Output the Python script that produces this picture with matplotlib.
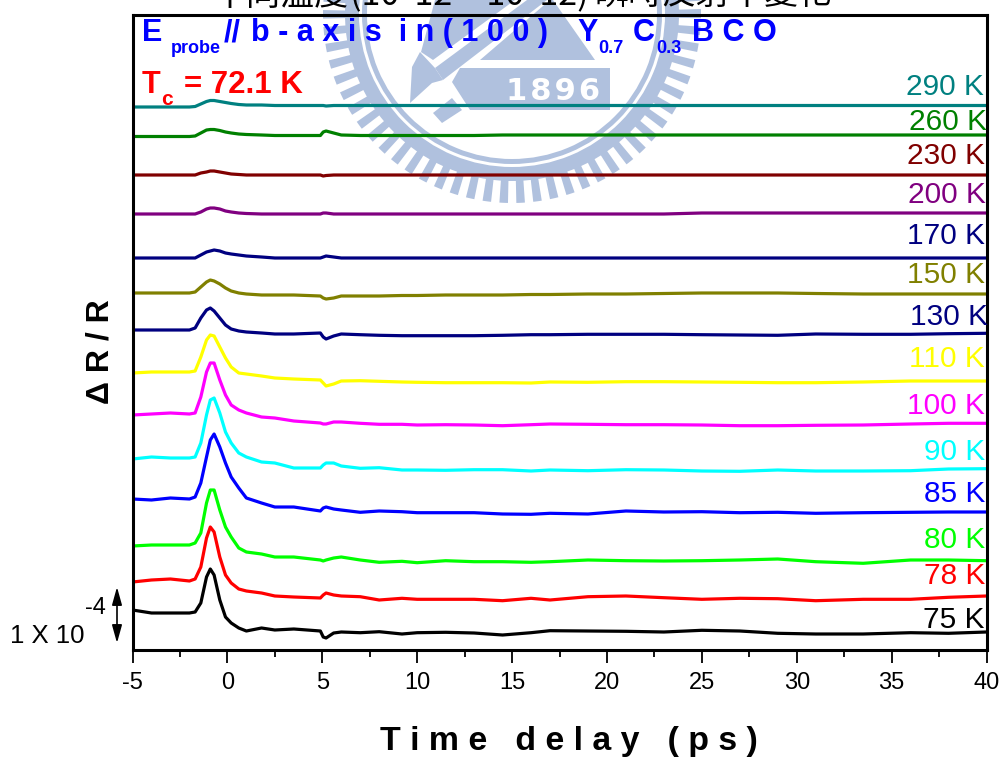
#!/usr/bin/python3

import numpy as np
import matplotlib
matplotlib.use("Agg")
import matplotlib.pyplot as plt
from matplotlib.patches import Wedge, Polygon

plt.rcParams['font.family'] = ['Liberation Sans', 'DejaVu Sans']
plt.rcParams['axes.unicode_minus'] = False

W = 1003
H = 758

# time delay knots (ps), shared by all the traces
t = [-5, -4, -3, -2, -1.7, -1.4, -1.1, -0.9, -0.7, -0.4, -0.1, 0.2, 0.6, 1, 1.8, 2.5, 3.5, 4.9,
     5.05, 5.2, 5.6, 6,
     7, 8, 9.2, 10, 11.5, 13, 14.5, 16, 17, 19, 21, 23, 25, 27, 29, 31, 33.5, 36, 38, 40]

# traces, y axis runs downward like the image rows
s75 = [610, 613, 613, 613, 612, 603, 577, 569, 575, 600, 617, 623, 628, 631, 628, 630, 629, 631,
       637, 638, 633, 632,
       632.7, 631.7, 634, 632.7, 632.3, 633, 635, 632.7, 630.7, 631, 631.3, 632, 630.3, 631, 633.3, 634, 634, 632.7, 633.3, 632]
s78 = [582, 580, 579, 581, 579, 567, 538, 527, 532, 557, 575, 583, 589, 591, 593, 596, 597, 598,
       595, 593, 595, 596,
       596.7, 600, 598.3, 599.3, 599.3, 599.3, 600.7, 598.3, 600, 596.7, 596, 597.7, 599.3, 598.3, 598.7, 600.7, 599.3, 599.3, 597.3, 596]
s80 = [546, 545, 545, 545, 543, 533, 503, 490, 490, 510, 527, 537, 548, 552, 554, 557, 557, 560,
       561, 560, 558, 557,
       560, 562.3, 561.3, 562.7, 560.7, 561.7, 561.7, 562.3, 561.7, 560, 560.7, 561, 560.7, 560, 559, 561.7, 563.3, 560, 560, 560.7]
s85 = [499, 500, 498, 499, 497, 483, 457, 440, 434, 447, 463, 477, 488, 498, 503, 507, 507, 511,
       508, 507, 509, 510,
       512.3, 511, 511.7, 512.7, 512.7, 512.7, 514, 514.3, 513.3, 514, 511, 512, 511.7, 512.7, 512.3, 513.3, 512.7, 512.3, 512, 512]
s90 = [459, 457, 458, 458, 457, 443, 415, 400, 398, 413, 432, 443, 453, 457, 462, 463, 468, 468,
       465, 463, 463, 466,
       468.3, 467.7, 470, 470, 470.3, 469.7, 469.7, 471, 470, 470.7, 469.7, 470, 471, 471.3, 470, 471, 471, 470.7, 469, 468.7]
s100 = [415, 414, 413, 414, 413, 397, 372, 363, 363, 380, 395, 405, 410, 413, 417, 418, 421, 423,
        424, 424, 422, 422,
        423.3, 424.3, 424.3, 425, 424.7, 425, 425.7, 424.7, 424, 424.3, 424.7, 424.7, 425, 425.7, 425.7, 425.3, 425, 424, 423.3, 423.3]
s110 = [373, 372, 372, 372, 371, 357, 340, 335, 336, 347, 358, 367, 373, 374, 376, 378, 379, 380,
        383, 386, 384, 381,
        380.7, 381.3, 382, 382.3, 382.7, 382.7, 382.7, 383, 382, 382.3, 381.7, 381.7, 382, 382.3, 382.7, 382.7, 382, 381, 381, 381]
s130 = [330, 330, 330, 330, 328, 318, 310, 308, 311, 318, 325, 329, 331, 332, 333, 334, 334, 333,
        337, 339, 336, 334,
        334.7, 335.3, 335.7, 335.7, 335.7, 335.7, 335.3, 334.7, 334.7, 334.3, 334.3, 334.3, 334.7, 335, 335.3, 334, 334.3, 334.3, 333.7, 333.3]
s150 = [293, 293, 293, 293, 292, 287, 282, 280, 281, 284, 288, 291, 293, 294, 295, 295, 295, 296,
        298, 299, 298, 296,
        296, 296, 295.5, 295.5, 295, 295, 295, 294.5, 294.5, 294, 294, 293.5, 293, 293, 293, 293.5, 294, 294, 294, 294]
s170 = [258, 258, 258, 258, 258, 255, 252, 251, 250, 251, 253, 254, 255, 256, 257, 258, 258, 258,
        257, 256, 257, 258,
        258, 258, 258, 258, 258, 258, 258, 258, 258, 258, 258, 258, 258, 258, 258, 258, 258, 258, 258, 258]
s200 = [214, 214, 214, 214, 214, 212, 209, 208, 208, 209, 211, 212, 213, 213.5, 214, 214, 214, 214,
        213, 213, 214, 214,
        214, 214, 214, 214, 214, 214, 214, 214, 214, 214, 214, 214, 213, 213, 213, 213, 213, 213, 213, 213]
s230 = [175, 175, 175, 175, 175, 173, 172, 171, 171, 172, 173, 174, 174.5, 175, 175, 175, 175, 175,
        176, 175.5, 175, 175,
        175, 175, 175, 175, 175, 175, 175, 175, 175, 175, 175, 175, 175, 175, 175, 175, 175, 175, 175, 175]
s260 = [136.5, 136.5, 136.5, 136.5, 136, 133, 130, 129.5, 129.5, 130.5, 132, 133, 134, 134.5, 135, 135.5, 135.5, 135.5,
        132, 131, 133, 135,
        135.5, 135.5, 135.5, 135.5, 135.5, 135.5, 135, 135, 135, 135, 135, 135, 135, 135, 135, 135, 135, 135, 135, 135]
s290 = [107, 107, 107, 107, 106.5, 104, 101.5, 100.5, 100.5, 101.5, 102.5, 103.5, 104.5, 105, 105, 105.5, 105.5, 105.5,
        105.5, 106, 105.5, 105.5,
        105.5, 105.5, 105.5, 105.5, 105.5, 105.5, 105.5, 105.5, 105.5, 105.5, 105.5, 105.5, 105.5, 105.5, 105.5, 105.5, 105.5, 105.5, 105.5, 105.5]

traces = [s75, s78, s80, s85, s90, s100, s110, s130, s150, s170, s200, s230, s260, s290]
temps = ["75 K", "78 K", "80 K", "85 K", "90 K", "100 K", "110 K", "130 K", "150 K", "170 K", "200 K", "230 K", "260 K", "290 K"]
colors = ["#000000", "#ff0000", "#00ff00", "#0000ff", "#00ffff", "#ff00ff", "#ffff00", "#000080", "#808000", "#000080", "#800080", "#800000", "#008000", "#008080"]
# where the temperature labels sit (image rows)
label_y = [620, 576, 540, 494, 452, 406, 359, 317, 275, 236, 195, 156, 122, 87]
label_x = [985, 985, 985, 985, 985, 985, 985, 988, 985, 985, 986, 985, 987, 984]

xticks = [-5, 0, 5, 10, 15, 20, 25, 30, 35, 40]


def px(x, y):
    return x / W, 1 - y / H


def put(x, y, s, **kw):
    # text placed in image pixels, baseline at y
    fx, fy = px(x, y)
    return fig.text(fx, fy, s, va=kw.pop("va", "baseline"), **kw)


def draw_seal(bg):
    blue = "#b0c1de"
    cx, cy = 512, 14
    bg.add_patch(Wedge((cx, cy), 167, 0, 360, width=14, fc=blue, ec="none"))
    bg.add_patch(Wedge((cx, cy), 150, 0, 360, width=5, fc=blue, ec="none"))
    for a in np.arange(0, 360, 5.14):
        bg.add_patch(Wedge((cx, cy), 189, a - 1.3, a + 1.3, width=23, fc=blue, ec="none"))
    # the anvil, the hammer and the 1896 banner
    shapes = [
        [(460, 68), (610, 68), (610, 110), (470, 110), (452, 82)],
        [(480, 60), (595, 60), (553, 0), (550, 0)],
        [(435, 68), (443, 80), (547, 0), (527, 0)],
        [(421, 52), (433, 60), (515, 0), (435, 0)],
        [(420, 52), (412, 67), (410, 103), (432, 83), (443, 80), (435, 68)],
        [(433, 113), (452, 98), (462, 110), (442, 123)],
    ]
    for pts in shapes:
        bg.add_patch(Polygon(pts, closed=True, fc=blue, ec="none"))
    bg.text(553, 100, "1\u200a8\u200a9\u200a6", color="white", fontsize=22, fontweight="bold", family="DejaVu Sans", ha="center", va="baseline")


fig = plt.figure(figsize=(W / 100, H / 100), dpi=100)

bg = fig.add_axes([0, 0, 1, 1])
bg.set_xlim(0, W)
bg.set_ylim(H, 0)
bg.axis("off")
draw_seal(bg)

ax = fig.add_axes([132.5 / W, 1 - 650 / H, 854 / W, 635 / H])
ax.patch.set_alpha(0)
for i in range(len(traces)):
    ax.plot(t, traces[i], color=colors[i], lw=2.3, solid_joinstyle="round")
    ax.text(label_x[i], label_y[i], temps[i], color=colors[i], fontsize=21.5, ha="right", va="center",
            transform=bg.transData)

ax.set_xlim(-5, 40)
ax.set_ylim(650, 15)
ax.set_xticks(xticks)
ax.set_xticks(np.arange(-5, 40.1, 2.5), minor=True)
ax.set_yticks([])
ax.tick_params(axis="x", which="major", length=9, width=1.3, labelsize=17, pad=7)
ax.tick_params(axis="x", which="minor", length=5, width=1.3)
for side in ax.spines:
    ax.spines[side].set_linewidth(2.2)

put(380, 750, "T i m e   d e l a y   ( p s )", fontsize=24.4, fontweight="bold", ha="left")
fig.text(*px(101, 352), "Δ R / R", fontsize=23, fontweight="bold", rotation=90, ha="center", va="center")

# header lines
put(142, 41, "E", color="#0000ff", fontsize=22, fontweight="bold")
put(171, 53, "probe", color="#0000ff", fontsize=13, fontweight="bold")
put(224, 41, "//", color="#0000ff", fontsize=22, fontweight="bold")
put(251, 41, "b - a x i s  i n ( 1 0 0 )", color="#0000ff", fontsize=22, fontweight="bold")
put(577, 41, "Y", color="#0000ff", fontsize=22, fontweight="bold")
put(598, 53, "0.7", color="#0000ff", fontsize=13, fontweight="bold")
put(633, 41, "C", color="#0000ff", fontsize=22, fontweight="bold")
put(656, 53, "0.3", color="#0000ff", fontsize=13, fontweight="bold")
put(692, 41, "B C O", color="#0000ff", fontsize=22, fontweight="bold")

put(142, 93, "T", color="#ff0000", fontsize=22, fontweight="bold")
put(161, 105, "c", color="#ff0000", fontsize=15, fontweight="bold")
put(184, 93, "= 72.1 K", color="#ff0000", fontsize=22.5, fontweight="bold")

# the caption above the frame is cut off by the page edge
cjk = ['Noto Sans CJK TC', 'DejaVu Sans']
put(212, 5, "不同溫度", fontsize=24.5, family=cjk)
put(350, 5, "(10  12 ~ 10  12)", fontsize=24.5, family=cjk)
put(595, 5, "瞬時反射率變化", fontsize=24.5, family=cjk)

# scale bar
bg.annotate("", xy=(117, 587), xytext=(117, 643),
            arrowprops=dict(arrowstyle="<|-|>,head_length=0.9,head_width=0.25", color="black", lw=1.2, mutation_scale=12, shrinkA=0, shrinkB=0))
put(85, 614, "-4", fontsize=17)
put(10, 643, "1 X 10", fontsize=18.5)

fig.savefig("out.png", dpi=100)
